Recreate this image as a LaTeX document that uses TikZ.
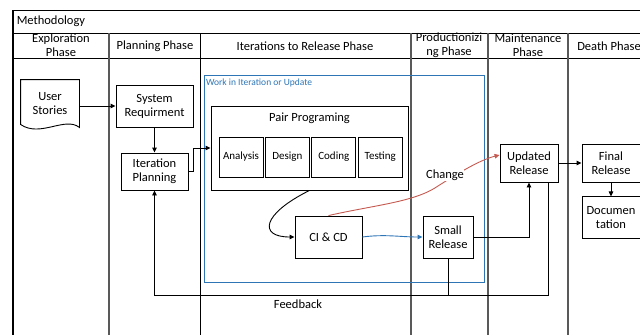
\documentclass[tikz,border=0pt]{standalone}
\usepackage{fontspec}
\setmainfont{Carlito}
\usetikzlibrary{positioning, arrows.meta}

\definecolor{workblue}{RGB}{46,117,182}
\definecolor{changered}{RGB}{197,90,80}

\begin{document}
\begin{tikzpicture}[
    x=1pt, y=-1pt, % one unit per pixel, y going down
    font=\fontsize{12.5}{14}\selectfont,
    line width=0.9pt,
    box/.style={draw, align=center, inner sep=1pt},
    stepbox/.style={draw, minimum width=44pt, minimum height=40pt, inner sep=0pt, font=\fontsize{11}{13}\selectfont},
    lane/.style={draw=black!65, line width=1.4pt},
    arrow/.style={-{Triangle[length=5pt,width=4.5pt]}},
    every node/.style={align=center}
]
\useasboundingbox (0,0) rectangle (640,335);

% frame and lanes
\draw (13,10) -- (640,10);
\draw (13,33) -- (640,33);
\draw (13,58) -- (640,58);
\draw[line width=1.4pt] (13,10) -- (13,335);
\draw[lane] (109,33) -- (109,335);
\draw (200,33) -- (200,335);
\draw[lane] (411,33) -- (411,335);
\draw[lane] (488,33) -- (488,335);
\draw[lane] (568,33) -- (568,335);

% headers
\node[anchor=west] (title) at (13,21.5) {Methodology};
\node (explore) at (61,45) {Exploration\\Phase};
\node (planning) at (155,46) {Planning Phase};
\node (iterate) at (305,46) {Iterations to Release Phase};
\node (product) at (449,45) {Productionizi\\ng Phase};
\node (maintain) at (528,45) {Maintenance\\Phase};
\node (death) at (609,46) {Death Phase};

% user stories (document shape)
\node[minimum width=58pt, minimum height=48pt] (stories) at (50,104) {User\\Stories};
\draw (stories.north west) -- (stories.north east) -- ([yshift=1pt]stories.south east)
    .. controls (65,116) and (40,138) .. ([yshift=4pt]stories.south west) -- cycle;

% planning
\node[box, minimum width=77pt, minimum height=42pt] (sysreq) at (154.5,106) {System\\Requirment};
\node[box, minimum width=67pt, minimum height=37pt] (iterplan) at (154.5,171.5) {Iteration\\Planning};

% work block
\node[draw=workblue, minimum width=280pt, minimum height=207pt] (work) at (344,178.5) {};
\node[anchor=north west, text=workblue, font=\fontsize{9.5}{11}\selectfont, inner sep=2pt] (worklabel) at ([shift={(0pt,-2pt)}]work.north west) {Work in Iteration or Update};

\node[draw, minimum width=197pt, minimum height=84pt] (pair) at (309.5,148) {};
\node (pairlabel) at (309.5,118) {Pair Programing};
\node[stepbox] (analysis) at (241,157) {Analysis};
\node[stepbox, right=1.5pt of analysis] (design) {Design};
\node[stepbox, right=1.5pt of design] (coding) {Coding};
\node[stepbox, right=1.5pt of coding] (testing) {Testing};

\node[box, minimum width=67pt, minimum height=42pt] (cicd) at (328.5,237) {CI \& CD};
\node[box, minimum width=50pt, minimum height=42pt] (small) at (448,237) {Small\\Release};
\node[box, minimum width=58pt, minimum height=38pt] (updated) at (529,163) {Updated\\Release};
\node[box, minimum width=58pt, minimum height=38pt] (final) at (611,163) {Final\\Release};
\node[box, minimum width=58pt, minimum height=42pt, below=14pt of final] (doc) {Documen\\tation};

% connectors
\draw[arrow] (stories.east |- sysreq.west) -- (sysreq.west);
\draw[arrow] (sysreq) -- (iterplan);
\draw[arrow] (iterplan.east) -- ++(5,0) |- (pair.west);
\draw[arrow] (pair.south) .. controls (262,214) and (258,237) .. (cicd.west);
\draw[arrow, workblue] (cicd.east) .. controls (385,234) and (400,237) .. (small.west);
\draw[arrow, changered] (cicd.north) .. controls (375,205) and (415,202) .. (438,186)
    .. controls (460,172) and (480,160) .. ([yshift=8pt]updated.west);
\node[fill=white, inner sep=0.5pt] (change) at (445,175) {Change};
\draw[arrow] (small.east) -| (updated.south);
\draw[arrow] (updated) -- (final);
\draw[arrow] (final) -- (doc);

% feedback loop
\draw[arrow] ([xshift=19pt]updated.south) -- ++(0,113) coordinate (fb) -| (iterplan.south);
\draw (small.south) -- (small.south |- fb);
\node (feedback) at (298,304) {Feedback};
\end{tikzpicture}
\end{document}
